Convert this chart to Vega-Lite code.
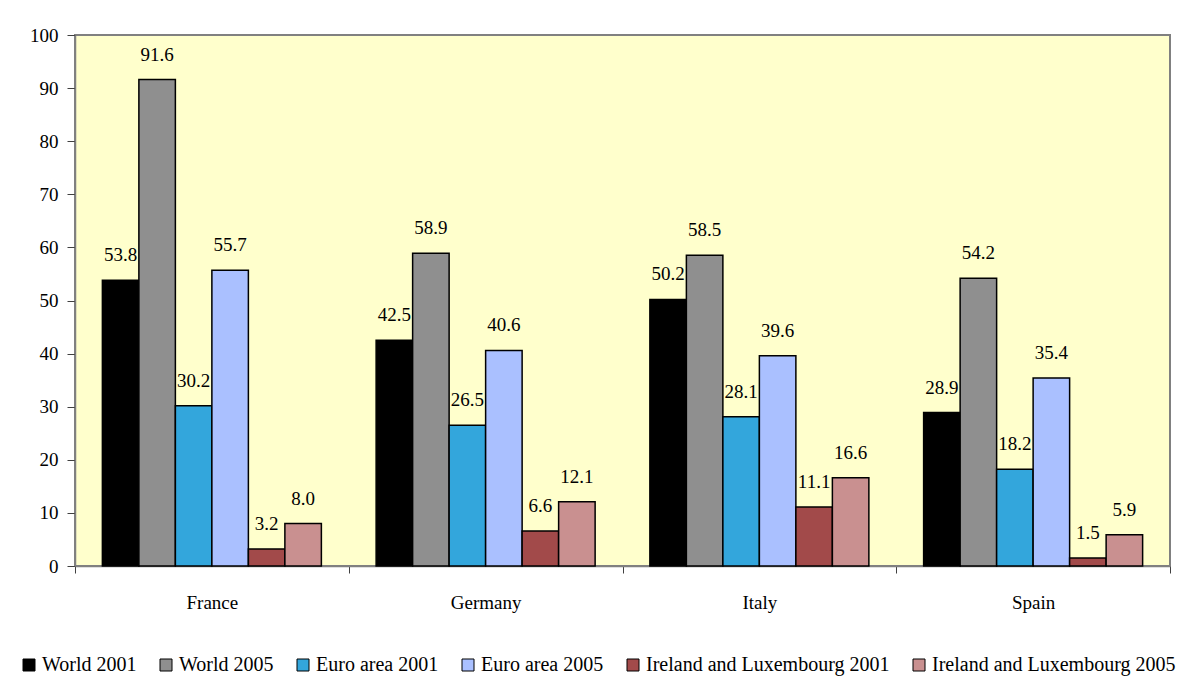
{
  "$schema": "https://vega.github.io/schema/vega-lite/v6.json",
  "autosize": {"type": "none"},
  "width": 1095,
  "height": 531,
  "padding": {"left": 75, "top": 35, "right": 14, "bottom": 134},
  "background": "white",
  "config": {
    "view": {"fill": "#FFFFCC", "stroke": "#808080", "strokeWidth": 2},
    "font": "Times New Roman, Liberation Serif, DejaVu Serif, serif",
    "axis": {"labelFont": "Times New Roman, Liberation Serif, DejaVu Serif, serif", "labelFontSize": 19, "labelColor": "black", "grid": false, "domainColor": "#808080", "domainWidth": 1.5, "tickColor": "#404040", "title": null},
    "legend": {"labelFont": "Times New Roman, Liberation Serif, DejaVu Serif, serif", "labelFontSize": 20, "labelColor": "black"}
  },
  "data": {"values": [
    {"country": "France", "series": "World 2001", "value": 53.8},
    {"country": "France", "series": "World 2005", "value": 91.6},
    {"country": "France", "series": "Euro area 2001", "value": 30.2},
    {"country": "France", "series": "Euro area 2005", "value": 55.7},
    {"country": "France", "series": "Ireland and Luxembourg 2001", "value": 3.2},
    {"country": "France", "series": "Ireland and Luxembourg 2005", "value": 8.0},
    {"country": "Germany", "series": "World 2001", "value": 42.5},
    {"country": "Germany", "series": "World 2005", "value": 58.9},
    {"country": "Germany", "series": "Euro area 2001", "value": 26.5},
    {"country": "Germany", "series": "Euro area 2005", "value": 40.6},
    {"country": "Germany", "series": "Ireland and Luxembourg 2001", "value": 6.6},
    {"country": "Germany", "series": "Ireland and Luxembourg 2005", "value": 12.1},
    {"country": "Italy", "series": "World 2001", "value": 50.2},
    {"country": "Italy", "series": "World 2005", "value": 58.5},
    {"country": "Italy", "series": "Euro area 2001", "value": 28.1},
    {"country": "Italy", "series": "Euro area 2005", "value": 39.6},
    {"country": "Italy", "series": "Ireland and Luxembourg 2001", "value": 11.1},
    {"country": "Italy", "series": "Ireland and Luxembourg 2005", "value": 16.6},
    {"country": "Spain", "series": "World 2001", "value": 28.9},
    {"country": "Spain", "series": "World 2005", "value": 54.2},
    {"country": "Spain", "series": "Euro area 2001", "value": 18.2},
    {"country": "Spain", "series": "Euro area 2005", "value": 35.4},
    {"country": "Spain", "series": "Ireland and Luxembourg 2001", "value": 1.5},
    {"country": "Spain", "series": "Ireland and Luxembourg 2005", "value": 5.9}
  ]},
  "encoding": {
    "x": {"field": "country", "type": "nominal", "sort": ["France", "Germany", "Italy", "Spain"],
      "scale": {"paddingInner": 0, "paddingOuter": 0},
      "axis": {"labelAngle": 0, "tickBand": "extent", "tickSize": 7, "labelPadding": 20}},
    "xOffset": {"field": "series", "type": "nominal",
      "sort": ["World 2001", "World 2005", "Euro area 2001", "Euro area 2005", "Ireland and Luxembourg 2001", "Ireland and Luxembourg 2005"],
      "scale": {"paddingInner": 0, "paddingOuter": 0.75}},
    "y": {"field": "value", "type": "quantitative", "scale": {"domain": [0, 100], "nice": false},
      "axis": {"values": [0, 10, 20, 30, 40, 50, 60, 70, 80, 90, 100], "tickSize": 8, "labelPadding": 9}}
  },
  "layer": [
    {
      "mark": {"type": "bar", "stroke": "black", "strokeWidth": 1.5},
      "encoding": {
        "color": {"field": "series", "type": "nominal",
          "scale": {
            "domain": ["World 2001", "World 2005", "Euro area 2001", "Euro area 2005", "Ireland and Luxembourg 2001", "Ireland and Luxembourg 2005"],
            "range": ["#000000", "#8f8f8f", "#33A6DC", "#AAC0FF", "#A24a4a", "#C99090"]},
          "legend": {"title": null, "orient": "none", "direction": "horizontal", "columns": 6,
            "legendX": -56, "legendY": 620, "symbolType": "square", "symbolSize": 144,
            "symbolStrokeColor": "black", "symbolStrokeWidth": 1, "labelOffset": 3, "columnPadding": 19, "labelLimit": 400}}
      }
    },
    {
      "mark": {"type": "text", "baseline": "alphabetic", "dy": -19, "fontSize": 19, "font": "Times New Roman, Liberation Serif, DejaVu Serif, serif", "color": "black"},
      "encoding": {
        "text": {"field": "value", "type": "quantitative", "format": ".1f"}
      }
    }
  ]
}
